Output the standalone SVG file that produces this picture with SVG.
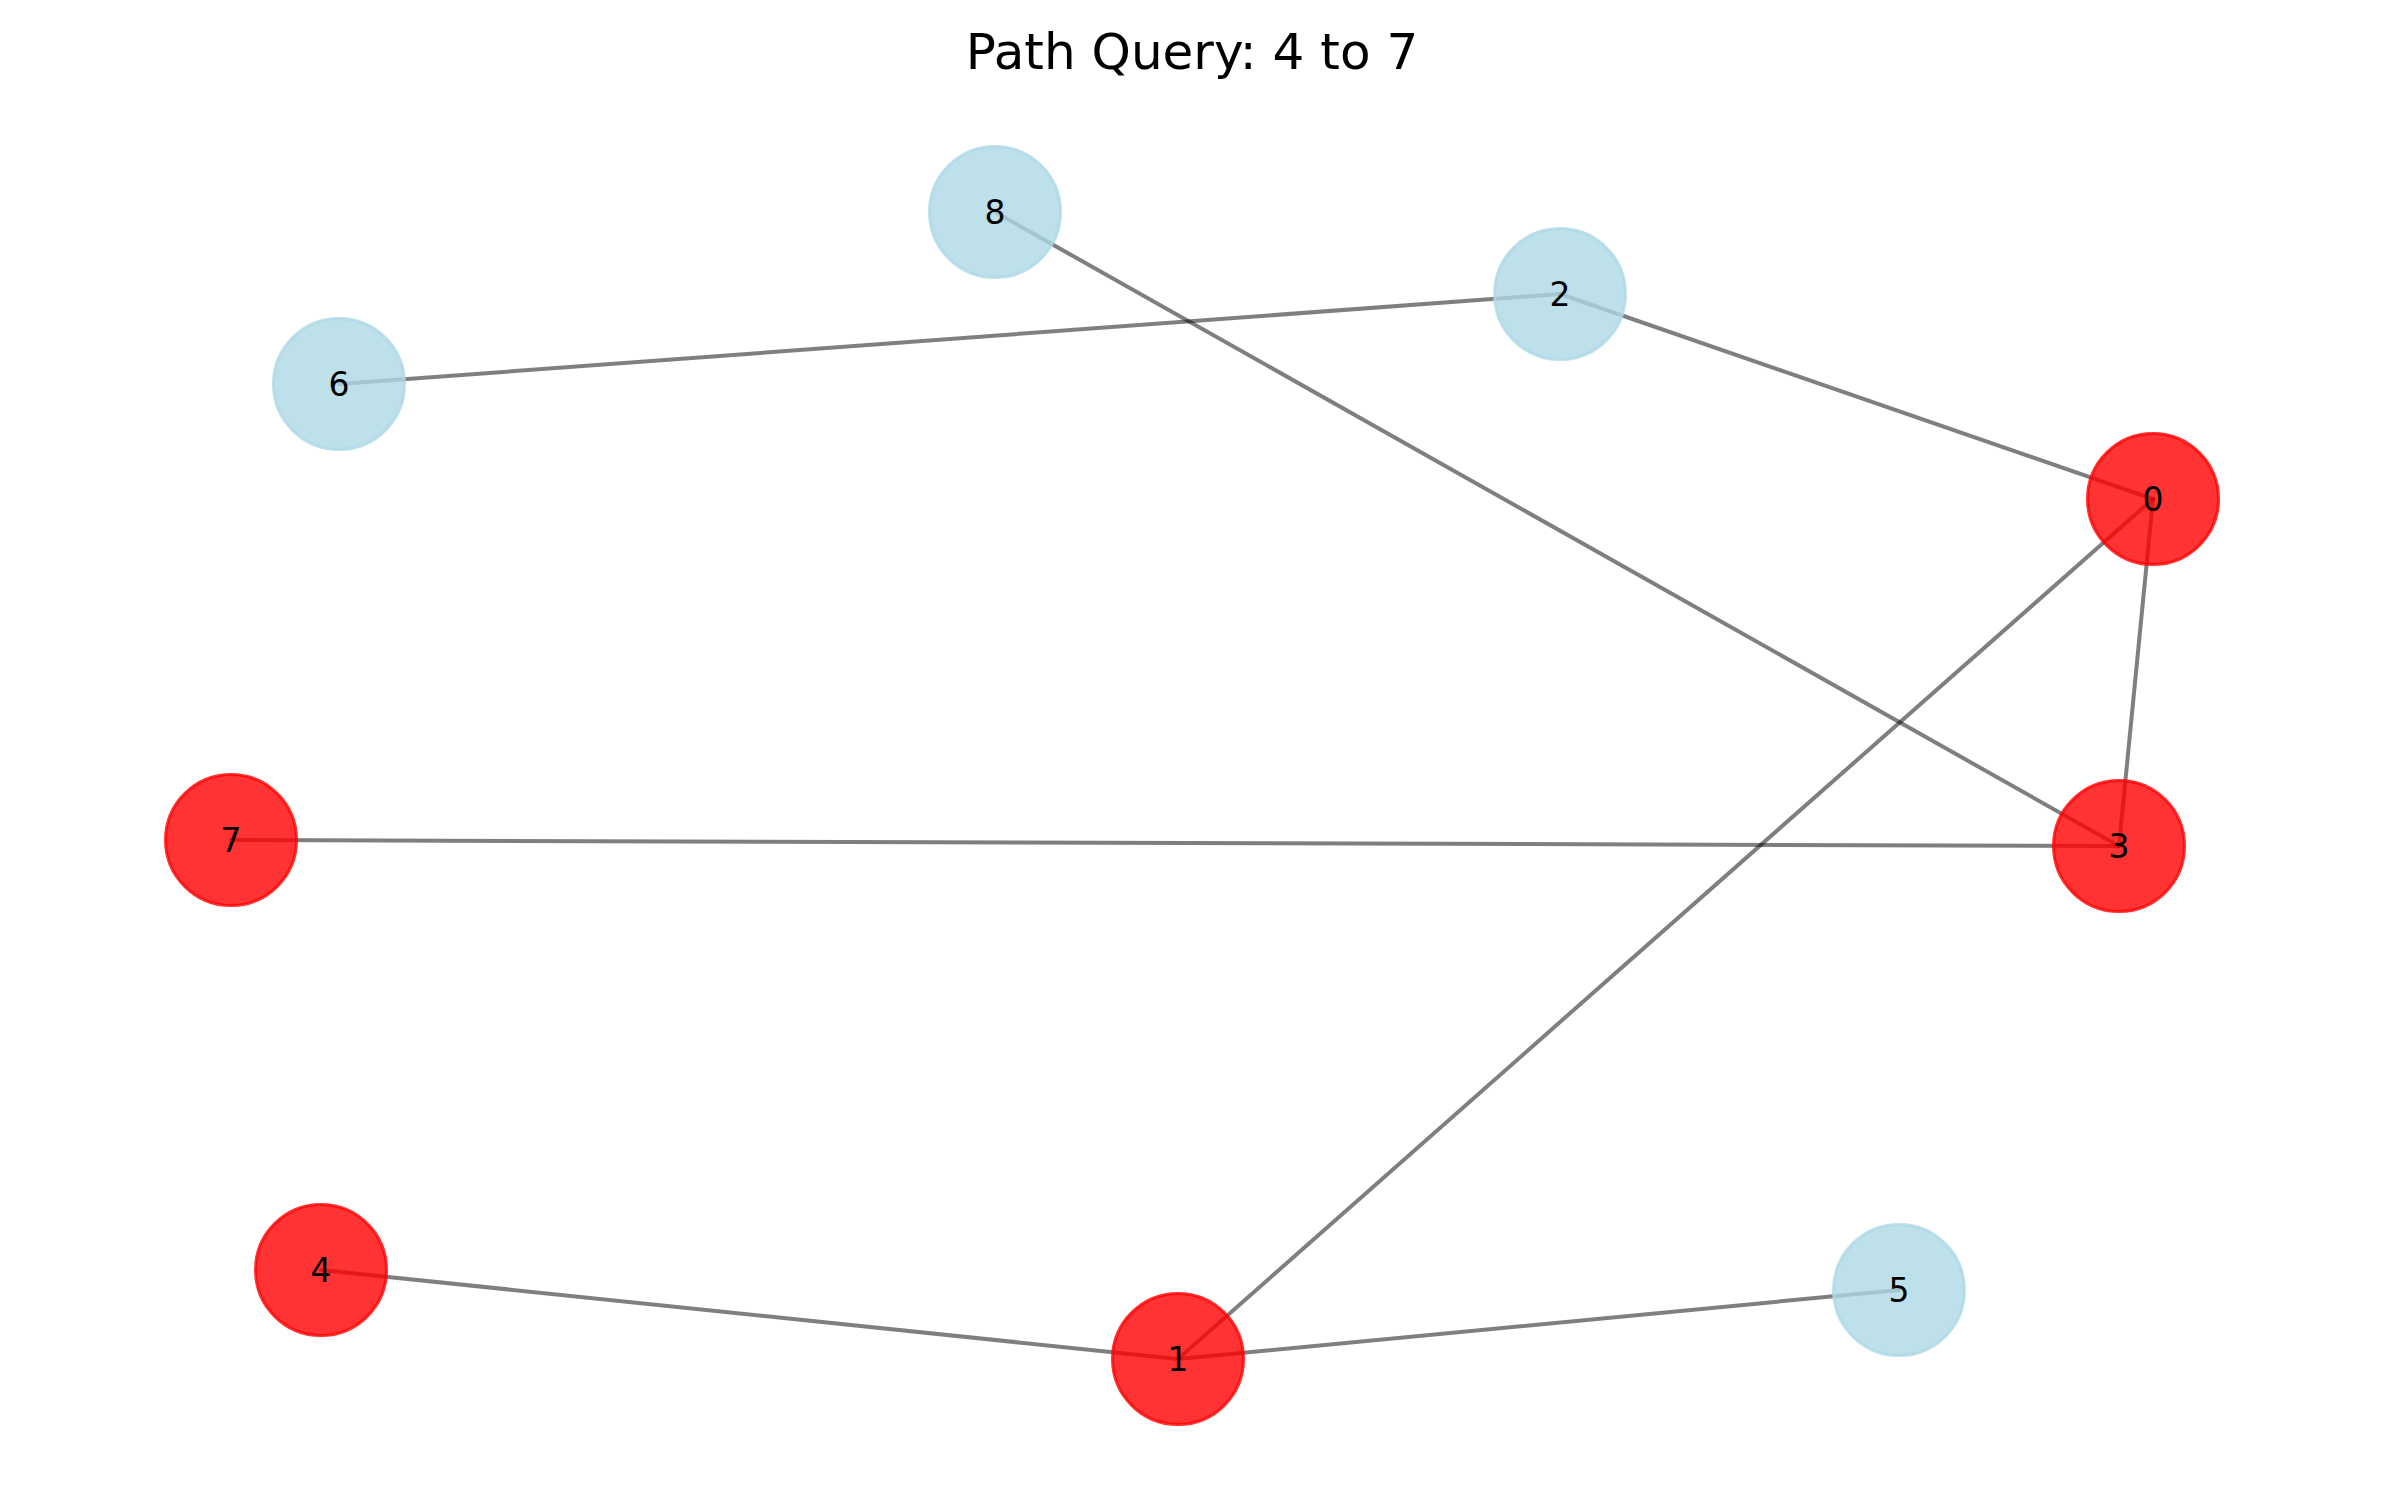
<svg xmlns="http://www.w3.org/2000/svg" width="2385" height="1509" viewBox="0 0 2385 1509">
<style>
.edge{stroke:#000;stroke-opacity:0.5;stroke-width:4;fill:none;stroke-linecap:round}
.red circle{fill:#ff0000;fill-opacity:0.8;stroke:#ff0000;stroke-opacity:0.8;stroke-width:3}
.blue circle{fill:#add8e6;fill-opacity:0.8;stroke:#add8e6;stroke-opacity:0.8;stroke-width:3}
text{font-family:"DejaVu Sans","Liberation Sans",sans-serif;fill:#000}
.lbl{font-size:33px;text-anchor:middle}
</style>
<rect width="2385" height="1509" fill="#fff"/>
<text x="1192" y="69" style="font-size:50px" text-anchor="middle">Path Query: 4 to 7</text>
<g id="edges">
<line class="edge" x1="339" y1="384" x2="1560" y2="294"/>
<line class="edge" x1="995" y1="212" x2="2119" y2="846"/>
<line class="edge" x1="1560" y1="294" x2="2153" y2="499"/>
<line class="edge" x1="2153" y1="499" x2="2119" y2="846"/>
<line class="edge" x1="2153" y1="499" x2="1178" y2="1359"/>
<line class="edge" x1="231" y1="840" x2="2119" y2="846"/>
<line class="edge" x1="321" y1="1270" x2="1178" y2="1359"/>
<line class="edge" x1="1178" y1="1359" x2="1899" y2="1290"/>
</g>
<g id="node0" class="red"><circle cx="2153" cy="499" r="65.5"/><text class="lbl" x="2153" y="511">0</text></g>
<g id="node1" class="red"><circle cx="1178" cy="1359" r="65.5"/><text class="lbl" x="1178" y="1371">1</text></g>
<g id="node2" class="blue"><circle cx="1560" cy="294" r="65.5"/><text class="lbl" x="1560" y="306">2</text></g>
<g id="node3" class="red"><circle cx="2119" cy="846" r="65.5"/><text class="lbl" x="2119" y="858">3</text></g>
<g id="node4" class="red"><circle cx="321" cy="1270" r="65.5"/><text class="lbl" x="321" y="1282">4</text></g>
<g id="node5" class="blue"><circle cx="1899" cy="1290" r="65.5"/><text class="lbl" x="1899" y="1302">5</text></g>
<g id="node6" class="blue"><circle cx="339" cy="384" r="65.5"/><text class="lbl" x="339" y="396">6</text></g>
<g id="node7" class="red"><circle cx="231" cy="840" r="65.5"/><text class="lbl" x="231" y="852">7</text></g>
<g id="node8" class="blue"><circle cx="995" cy="212" r="65.5"/><text class="lbl" x="995" y="224">8</text></g>
</svg>
